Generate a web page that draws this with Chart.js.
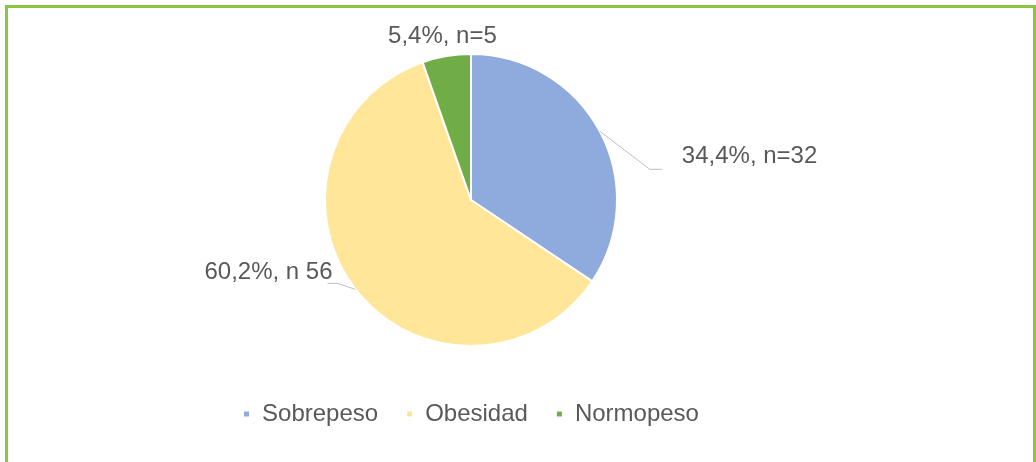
<!DOCTYPE html>
<html>
<head>
<meta charset="utf-8">
<script src="https://cdn.jsdelivr.net/npm/chart.js@4.4.1/dist/chart.umd.min.js"></script>
<style>
  html, body { margin: 0; padding: 0; background: #fff; overflow: hidden; }
  #wrap { position: relative; width: 1036px; height: 462px; }
  #frame { position: absolute; left: 5px; top: 5px; width: 1025px; height: 500px; border: 3px solid #8cc63f; box-sizing: content-box; pointer-events: none; }
  canvas { position: absolute; left: 0; top: 0; }
</style>
</head>
<body>
<div id="wrap">
  <canvas id="c" width="1036" height="462"></canvas>
  <div id="frame"></div>
</div>
<script>
const categories = ['Sobrepeso', 'Obesidad', 'Normopeso'];
const counts = [32, 56, 5];
const labelTexts = ['34,4%, n=32', '60,2%, n 56', '5,4%, n=5'];
const sliceColors = ['#8faadc', '#ffe699', '#70ad47'];

// label placement relative to the slice's outer mid-point (style, not data)
const labelLayout = [
  { leader: [[50, 38], [62, 38]], text: [82, 32], align: 'left' },
  { leader: [[-18, -6], [-28, -6]], text: [-23, -10], align: 'right' },
  { leader: null, text: [-4, -13], align: 'center' }
];

const outerLabels = {
  id: 'outerLabels',
  afterDatasetsDraw(chart) {
    const ctx = chart.ctx;
    const meta = chart.getDatasetMeta(0);
    ctx.save();
    meta.data.forEach((arc, i) => {
      const p = arc.getProps(['x', 'y', 'startAngle', 'endAngle', 'outerRadius'], true);
      const mid = (p.startAngle + p.endAngle) / 2;
      const ex = p.x + Math.cos(mid) * p.outerRadius;
      const ey = p.y + Math.sin(mid) * p.outerRadius;
      const L = labelLayout[i];
      if (L.leader) {
        ctx.strokeStyle = '#bfbfbf';
        ctx.lineWidth = 1;
        ctx.beginPath();
        ctx.moveTo(ex, ey);
        L.leader.forEach(([dx, dy]) => ctx.lineTo(ex + dx, ey + dy));
        ctx.stroke();
      }
      ctx.fillStyle = '#595959';
      ctx.font = '24px "Liberation Sans", Arial, sans-serif';
      ctx.textAlign = L.align;
      ctx.textBaseline = 'alphabetic';
      ctx.fillText(labelTexts[i], ex + L.text[0], ey + L.text[1]);
    });
    ctx.restore();
  }
};

new Chart(document.getElementById('c'), {
  type: 'pie',
  data: {
    labels: categories,
    datasets: [{
      data: counts,
      backgroundColor: sliceColors,
      borderColor: '#ffffff',
      borderWidth: 2,
      radius: 146
    }]
  },
  options: {
    responsive: false,
    animation: false,
    layout: { padding: { top: 26, bottom: 26, left: 0, right: 94 } },
    plugins: {
      tooltip: { enabled: false },
      legend: {
        position: 'bottom',
        labels: {
          boxWidth: 7,
          boxHeight: 7,
          padding: 28,
          color: '#595959',
          font: { family: '"Liberation Sans", Arial, sans-serif', size: 24 }
        }
      }
    }
  },
  plugins: [outerLabels]
});
</script>
</body>
</html>
